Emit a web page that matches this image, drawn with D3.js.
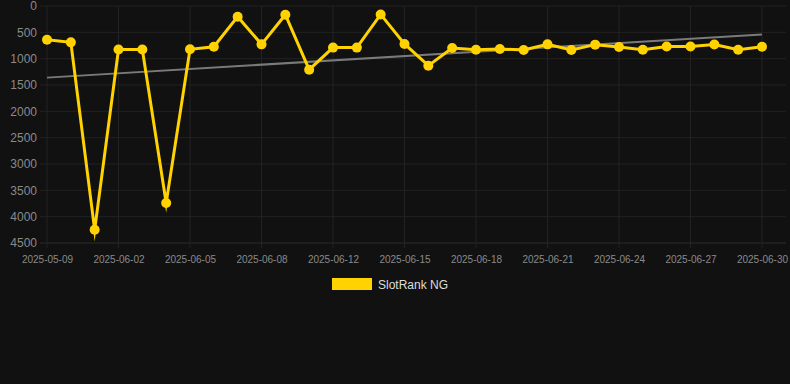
<!DOCTYPE html>
<html>
<head>
<meta charset="utf-8">
<script src="https://cdn.jsdelivr.net/npm/d3@7"></script>
<style>
html,body{margin:0;padding:0;background:#111111;}
svg{display:block;font-family:"Liberation Sans",Arial,Helvetica,sans-serif;}
</style>
</head>
<body>
<svg id="chart" width="790" height="384"></svg>
<script>
const dates = ["2025-05-09","2025-05-31","2025-06-01","2025-06-02","2025-06-03","2025-06-04","2025-06-05","2025-06-06","2025-06-07","2025-06-08","2025-06-10","2025-06-11","2025-06-12","2025-06-13","2025-06-14","2025-06-15","2025-06-16","2025-06-17","2025-06-18","2025-06-19","2025-06-20","2025-06-21","2025-06-22","2025-06-23","2025-06-24","2025-06-25","2025-06-26","2025-06-27","2025-06-28","2025-06-29","2025-06-30"];
const rankValues = [640,690,4250,825,825,3740,822,773,203,728,165,1209,790,790,160,721,1133,797,829,816,835,728,835,734,780,830,770,770,730,830,775];
const trendValues = [1360,540];
const yTicks = [0,500,1000,1500,2000,2500,3000,3500,4000,4500];
const xTickLabels = ["2025-05-09","2025-06-02","2025-06-05","2025-06-08","2025-06-12","2025-06-15","2025-06-18","2025-06-21","2025-06-24","2025-06-27","2025-06-30"];
const seriesName = "SlotRank NG";

const svg = d3.select("#chart");
const x = d3.scalePoint().domain(dates).range([47, 762]);
const y = d3.scaleLinear().domain([0, 4500]).range([6, 243]);

// horizontal grid
svg.append("g").selectAll("line").data(yTicks).join("line")
  .attr("x1", 40).attr("x2", 786)
  .attr("y1", d => y(d)).attr("y2", d => y(d))
  .attr("stroke", d => d === 4500 ? "#2c2c2c" : "#222222").attr("stroke-width", 1);
// vertical grid
svg.append("g").selectAll("line").data(xTickLabels).join("line")
  .attr("x1", d => x(d)).attr("x2", d => x(d))
  .attr("y1", y(0)).attr("y2", y(4500) + 5)
  .attr("stroke", "#222222").attr("stroke-width", 1);

// y axis
const yAxis = d3.axisLeft(y).tickValues(yTicks).tickSize(0).tickPadding(0).tickFormat(d3.format("d"));
const gy = svg.append("g").attr("transform", "translate(37,0)").call(yAxis);
gy.select(".domain").remove();
gy.selectAll("text").attr("fill", "#8a8a8a").style("font-size", "12px");

// x axis
const xAxis = d3.axisBottom(x).tickValues(xTickLabels).tickSize(0).tickPadding(0);
const gx = svg.append("g").attr("transform", "translate(0,255.5)").call(xAxis);
gx.select(".domain").remove();
gx.selectAll("text").attr("fill", "#8a8a8a").style("font-size", "10px");

// trend line
svg.append("line")
  .attr("x1", x(dates[0])).attr("x2", x(dates[dates.length - 1]))
  .attr("y1", y(trendValues[0])).attr("y2", y(trendValues[1]))
  .attr("stroke", "#7a7a7a").attr("stroke-width", 2);

// series line
const line = d3.line().x((d, i) => x(dates[i])).y(d => y(d));
svg.append("path").datum(rankValues)
  .attr("d", line)
  .attr("fill", "none")
  .attr("stroke", "#FFD200")
  .attr("stroke-width", 3)
  .attr("stroke-linejoin", "miter")
  .attr("stroke-miterlimit", 10);

svg.append("g").selectAll("circle").data(rankValues).join("circle")
  .attr("cx", (d, i) => x(dates[i])).attr("cy", d => y(d))
  .attr("r", 5).attr("fill", "#FFD200");

// legend
const lg = svg.append("g");
lg.append("rect").attr("x", 332).attr("y", 278).attr("width", 40).attr("height", 12).attr("fill", "#FFD200");
lg.append("text").attr("x", 378).attr("y", 288.5).text(seriesName)
  .attr("fill", "#dddddd").style("font-size", "12px");
</script>
</body>
</html>
